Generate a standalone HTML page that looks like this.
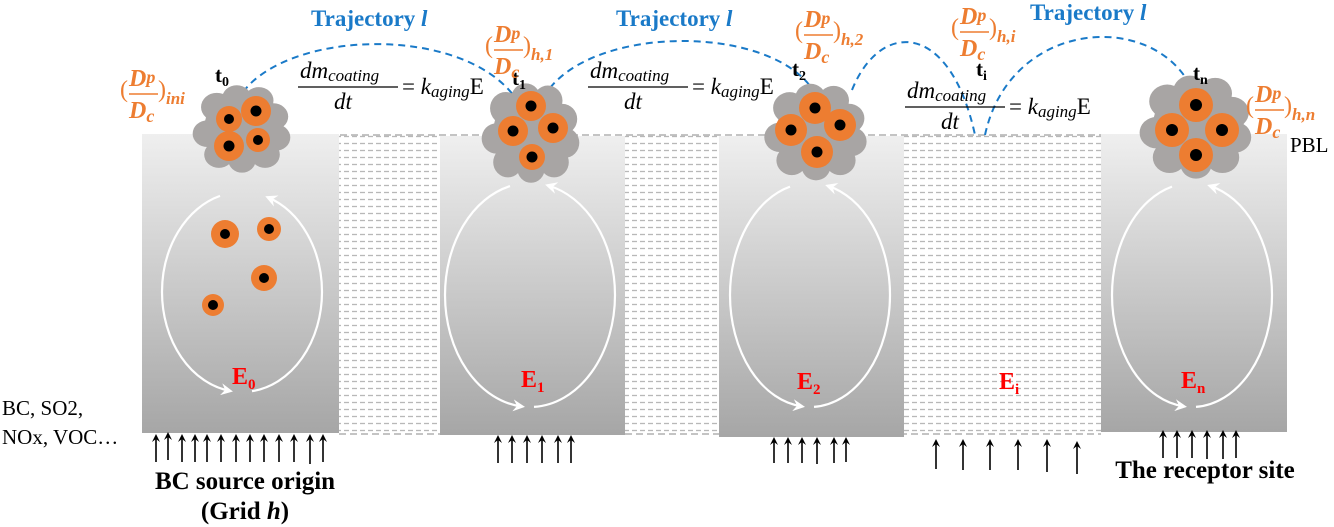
<!DOCTYPE html>
<html><head><meta charset="utf-8"><style>
html,body{margin:0;padding:0;background:#fff;}
svg{display:block;}
.ser{font-family:"Liberation Serif",serif;}
</style></head><body>
<svg width="1334" height="527" viewBox="0 0 1334 527" xmlns="http://www.w3.org/2000/svg">
<defs>
<linearGradient id="g" x1="0" y1="0" x2="0" y2="1">
<stop offset="0" stop-color="#efefef"/><stop offset="1" stop-color="#a6a6a6"/>
</linearGradient>
<pattern id="h" width="8" height="7" patternUnits="userSpaceOnUse">
<rect width="8" height="7" fill="#fff"/><line x1="0" y1="3.5" x2="5" y2="3.5" stroke="#b8b8b8" stroke-width="1.3"/>
</pattern>
<marker id="ah" markerWidth="8" markerHeight="8" refX="4" refY="4" orient="auto" markerUnits="userSpaceOnUse"><path d="M0,0 L8,4 L0,8 L3,4z" fill="#000"/></marker>
<marker id="wh" markerWidth="14" markerHeight="12" refX="9" refY="6" orient="auto" markerUnits="userSpaceOnUse"><path d="M0,0 L12,6 L0,12 L4,6z" fill="#fff"/></marker>
<g id="cl">
<g fill="#a8a5a4">
<circle cx="0" cy="0" r="36"/>
<circle cx="-24" cy="-22" r="15"/><circle cx="-5" cy="-31" r="14"/><circle cx="16" cy="-29" r="14"/><circle cx="30" cy="-12" r="14"/><circle cx="32" cy="10" r="14"/><circle cx="22" cy="28" r="14"/><circle cx="0" cy="34" r="13"/><circle cx="-22" cy="28" r="14"/><circle cx="-33" cy="6" r="14"/>
</g></g>
</defs>

<!-- hatched zones -->
<rect x="339" y="135" width="101" height="299" fill="url(#h)"/>
<rect x="625" y="135" width="94" height="299" fill="url(#h)"/>
<rect x="904" y="135" width="197" height="299" fill="url(#h)"/>
<line x1="142" y1="135" x2="1240" y2="135" stroke="#b0b0b0" stroke-width="1.5" stroke-dasharray="7,4"/>
<line x1="339" y1="434" x2="1101" y2="434" stroke="#b0b0b0" stroke-width="1.5" stroke-dasharray="7,4"/>

<!-- boxes -->
<rect x="142" y="134" width="197" height="299" fill="url(#g)"/>
<rect x="440" y="136" width="185" height="299" fill="url(#g)"/>
<rect x="719" y="136" width="185" height="301" fill="url(#g)"/>
<rect x="1101" y="134" width="186" height="298" fill="url(#g)"/>

<!-- circulation ellipses -->
<g fill="none" stroke="#fff" stroke-width="2.2">
<path d="M220,195.9 A80,100 0 0,0 162,292 A80,100 0 0,0 230,390.9" marker-end="url(#wh)"/>
<path d="M252,391.2 A80,100 0 0,0 322,292 A80,100 0 0,0 268,197.4" marker-end="url(#wh)"/>
<path d="M510,186.1 A85,112 0 0,0 445,295 A85,112 0 0,0 522,406.5" marker-end="url(#wh)"/>
<path d="M534,406.9 A85,112 0 0,0 615,295 A85,112 0 0,0 548,185.5" marker-end="url(#wh)"/>
<path d="M790,186.6 A80,112 0 0,0 730,295 A80,112 0 0,0 802,406.4" marker-end="url(#wh)"/>
<path d="M814,406.9 A80,112 0 0,0 890,295 A80,112 0 0,0 828,185.9" marker-end="url(#wh)"/>
<path d="M1172,186.6 A80,112 0 0,0 1112,295 A80,112 0 0,0 1184,406.4" marker-end="url(#wh)"/>
<path d="M1196,406.9 A80,112 0 0,0 1272,295 A80,112 0 0,0 1210,185.9" marker-end="url(#wh)"/>
</g>

<!-- free particles -->
<g>
<circle cx="225" cy="234" r="14" fill="#ed7d31"/><circle cx="225" cy="234" r="5" fill="#000"/>
<circle cx="269" cy="229" r="12" fill="#ed7d31"/><circle cx="269" cy="229" r="5" fill="#000"/>
<circle cx="264" cy="278" r="13" fill="#ed7d31"/><circle cx="264" cy="278" r="5" fill="#000"/>
<circle cx="213" cy="305" r="11" fill="#ed7d31"/><circle cx="213" cy="305" r="5" fill="#000"/>
</g>

<!-- trajectories -->
<g fill="none" stroke="#1a7ac8" stroke-width="2" stroke-dasharray="7,5">
<path d="M243,92 C290,30 460,25 514,96"/>
<path d="M550,88 C600,25 770,25 813,90"/>
<path d="M852,90 C880,20 950,20 975,135"/>
<path d="M985,135 C1010,20 1150,10 1190,85"/>
</g>

<!-- clusters -->
<g transform="translate(242,128) scale(1.05,0.95)"><use href="#cl"/></g>
<circle cx="229" cy="119" r="13" fill="#ed7d31"/><circle cx="229" cy="119" r="5" fill="#000"/>
<circle cx="256" cy="111" r="15" fill="#ed7d31"/><circle cx="256" cy="111" r="5.5" fill="#000"/>
<circle cx="229" cy="146" r="15" fill="#ed7d31"/><circle cx="229" cy="146" r="5.5" fill="#000"/>
<circle cx="258" cy="140" r="12" fill="#ed7d31"/><circle cx="258" cy="140" r="5" fill="#000"/>

<g transform="translate(531,132) scale(1.05,1.08)"><use href="#cl"/></g>
<circle cx="531" cy="106" r="15" fill="#ed7d31"/><circle cx="531" cy="106" r="5.5" fill="#000"/>
<circle cx="513" cy="131" r="15" fill="#ed7d31"/><circle cx="513" cy="131" r="5.5" fill="#000"/>
<circle cx="553" cy="128" r="15" fill="#ed7d31"/><circle cx="553" cy="128" r="5.5" fill="#000"/>
<circle cx="532" cy="157" r="13" fill="#ed7d31"/><circle cx="532" cy="157" r="5.5" fill="#000"/>

<g transform="translate(816,131) scale(1.1,1.05)"><use href="#cl"/></g>
<circle cx="815" cy="108" r="16" fill="#ed7d31"/><circle cx="815" cy="108" r="5.5" fill="#000"/>
<circle cx="791" cy="130" r="16" fill="#ed7d31"/><circle cx="791" cy="130" r="5.5" fill="#000"/>
<circle cx="840" cy="125" r="16" fill="#ed7d31"/><circle cx="840" cy="125" r="5.5" fill="#000"/>
<circle cx="817" cy="152" r="16" fill="#ed7d31"/><circle cx="817" cy="152" r="5.5" fill="#000"/>

<g transform="translate(1196,126) scale(1.2,1.12)"><use href="#cl"/></g>
<circle cx="1196" cy="105" r="17" fill="#ed7d31"/><circle cx="1196" cy="105" r="6" fill="#000"/>
<circle cx="1172" cy="130" r="17" fill="#ed7d31"/><circle cx="1172" cy="130" r="6" fill="#000"/>
<circle cx="1222" cy="130" r="17" fill="#ed7d31"/><circle cx="1222" cy="130" r="6" fill="#000"/>
<circle cx="1196" cy="155" r="17" fill="#ed7d31"/><circle cx="1196" cy="155" r="6" fill="#000"/>

<!-- trajectory labels -->
<g class="ser" font-weight="bold" font-size="23" fill="#1a7ac8">
<text x="311" y="26">Trajectory <tspan font-style="italic">l</tspan></text>
<text x="616" y="26">Trajectory <tspan font-style="italic">l</tspan></text>
<text x="1030" y="20">Trajectory <tspan font-style="italic">l</tspan></text>
</g>

<!-- t labels -->
<g class="ser" font-weight="bold" font-size="21" fill="#000">
<text x="215" y="82">t<tspan font-size="14" dy="4">0</tspan></text>
<text x="512" y="85">t<tspan font-size="14" dy="4">1</tspan></text>
<text x="792" y="76">t<tspan font-size="14" dy="4">2</tspan></text>
<text x="976" y="76">t<tspan font-size="14" dy="4">i</tspan></text>
<text x="1193" y="80">t<tspan font-size="14" dy="4">n</tspan></text>
</g>

<!-- formulas -->
<g class="ser" font-size="23" fill="#000">
<g transform="translate(298,0)">
<text x="2" y="78" font-style="italic">dm<tspan font-size="17" dy="3">coating</tspan></text>
<line x1="0" y1="87" x2="100" y2="87" stroke="#000" stroke-width="1.3"/>
<text x="36" y="109" font-style="italic">dt</text>
<text x="104" y="94">= <tspan font-style="italic">k</tspan><tspan font-style="italic" font-size="17" dy="3">aging</tspan><tspan dy="-3">E</tspan></text>
</g>
<g transform="translate(588,0)">
<text x="2" y="78" font-style="italic">dm<tspan font-size="17" dy="3">coating</tspan></text>
<line x1="0" y1="87" x2="100" y2="87" stroke="#000" stroke-width="1.3"/>
<text x="36" y="109" font-style="italic">dt</text>
<text x="104" y="94">= <tspan font-style="italic">k</tspan><tspan font-style="italic" font-size="17" dy="3">aging</tspan><tspan dy="-3">E</tspan></text>
</g>
<g transform="translate(905,20)">
<text x="2" y="78" font-style="italic">dm<tspan font-size="17" dy="3">coating</tspan></text>
<line x1="0" y1="87" x2="100" y2="87" stroke="#000" stroke-width="1.3"/>
<text x="36" y="109" font-style="italic">dt</text>
<text x="104" y="94">= <tspan font-style="italic">k</tspan><tspan font-style="italic" font-size="17" dy="3">aging</tspan><tspan dy="-3">E</tspan></text>
</g>
</g>

<!-- orange ratio labels -->
<g class="ser" font-weight="bold" font-style="italic" fill="#ed7d31">
<g transform="translate(120,62)">
<text x="0" y="35" font-size="24" font-style="normal" font-weight="normal">(</text>
<text x="9" y="24" font-size="24">D<tspan font-size="18" dy="-3">p</tspan></text>
<line x1="9" y1="32" x2="38" y2="32" stroke="#ed7d31" stroke-width="1.5"/>
<text x="9" y="56" font-size="24">D<tspan font-size="18" dy="4">c</tspan></text>
<text x="38" y="35" font-size="24" font-style="normal" font-weight="normal">)</text>
<text x="46" y="42" font-size="17">ini</text>
</g>
<g transform="translate(485,18)">
<text x="0" y="35" font-size="24" font-style="normal" font-weight="normal">(</text>
<text x="9" y="24" font-size="24">D<tspan font-size="18" dy="-3">p</tspan></text>
<line x1="9" y1="32" x2="38" y2="32" stroke="#ed7d31" stroke-width="1.5"/>
<text x="9" y="56" font-size="24">D<tspan font-size="18" dy="4">c</tspan></text>
<text x="38" y="35" font-size="24" font-style="normal" font-weight="normal">)</text>
<text x="46" y="42" font-size="17">h,1</text>
</g>
<g transform="translate(795,3)">
<text x="0" y="35" font-size="24" font-style="normal" font-weight="normal">(</text>
<text x="9" y="24" font-size="24">D<tspan font-size="18" dy="-3">p</tspan></text>
<line x1="9" y1="32" x2="38" y2="32" stroke="#ed7d31" stroke-width="1.5"/>
<text x="9" y="56" font-size="24">D<tspan font-size="18" dy="4">c</tspan></text>
<text x="38" y="35" font-size="24" font-style="normal" font-weight="normal">)</text>
<text x="46" y="42" font-size="17">h,2</text>
</g>
<g transform="translate(951,0)">
<text x="0" y="35" font-size="24" font-style="normal" font-weight="normal">(</text>
<text x="9" y="24" font-size="24">D<tspan font-size="18" dy="-3">p</tspan></text>
<line x1="9" y1="32" x2="38" y2="32" stroke="#ed7d31" stroke-width="1.5"/>
<text x="9" y="56" font-size="24">D<tspan font-size="18" dy="4">c</tspan></text>
<text x="38" y="35" font-size="24" font-style="normal" font-weight="normal">)</text>
<text x="46" y="42" font-size="17">h,i</text>
</g>
<g transform="translate(1246,78)">
<text x="0" y="35" font-size="24" font-style="normal" font-weight="normal">(</text>
<text x="9" y="24" font-size="24">D<tspan font-size="18" dy="-3">p</tspan></text>
<line x1="9" y1="32" x2="38" y2="32" stroke="#ed7d31" stroke-width="1.5"/>
<text x="9" y="56" font-size="24">D<tspan font-size="18" dy="4">c</tspan></text>
<text x="38" y="35" font-size="24" font-style="normal" font-weight="normal">)</text>
<text x="46" y="42" font-size="17">h,n</text>
</g>
</g>

<text x="1290" y="152" class="ser" font-size="21" fill="#000">PBL</text>

<!-- E labels -->
<g class="ser" font-weight="bold" font-size="24" fill="#ff0000">
<text x="232" y="384">E<tspan font-size="15" dy="5">0</tspan></text>
<text x="521" y="387">E<tspan font-size="15" dy="5">1</tspan></text>
<text x="797" y="389">E<tspan font-size="15" dy="5">2</tspan></text>
<text x="999" y="389">E<tspan font-size="15" dy="5">i</tspan></text>
<text x="1181" y="388">E<tspan font-size="15" dy="5">n</tspan></text>
</g>

<!-- source arrows -->
<g stroke="#000" stroke-width="1.6" marker-end="url(#ah)">
<line x1="156" y1="462" x2="156" y2="438"/><line x1="168" y1="460" x2="168" y2="436"/><line x1="182" y1="462" x2="182" y2="438"/><line x1="195" y1="462" x2="195" y2="438"/><line x1="207" y1="462" x2="207" y2="438"/><line x1="221" y1="462" x2="221" y2="438"/><line x1="236" y1="462" x2="236" y2="438"/><line x1="250" y1="462" x2="250" y2="438"/><line x1="264" y1="462" x2="264" y2="438"/><line x1="279" y1="462" x2="279" y2="438"/><line x1="294" y1="462" x2="294" y2="438"/><line x1="310" y1="464" x2="310" y2="438"/><line x1="323" y1="462" x2="323" y2="438"/>
<line x1="498" y1="463" x2="498" y2="439"/><line x1="512" y1="463" x2="512" y2="439"/><line x1="527" y1="463" x2="527" y2="439"/><line x1="542" y1="463" x2="542" y2="439"/><line x1="558" y1="463" x2="558" y2="439"/><line x1="571" y1="463" x2="571" y2="439"/>
<line x1="774" y1="463" x2="774" y2="441"/><line x1="788" y1="463" x2="788" y2="441"/><line x1="802" y1="463" x2="802" y2="441"/><line x1="817" y1="464" x2="817" y2="441"/><line x1="834" y1="463" x2="834" y2="441"/><line x1="846" y1="462" x2="846" y2="441"/>
<line x1="936" y1="469" x2="936" y2="443"/><line x1="963" y1="470" x2="963" y2="443"/><line x1="990" y1="470" x2="990" y2="443"/><line x1="1018" y1="470" x2="1018" y2="443"/><line x1="1047" y1="472" x2="1047" y2="443"/><line x1="1077" y1="474" x2="1077" y2="445"/>
<line x1="1163" y1="458" x2="1163" y2="434"/><line x1="1177" y1="458" x2="1177" y2="434"/><line x1="1192" y1="458" x2="1192" y2="434"/><line x1="1207" y1="459" x2="1207" y2="434"/><line x1="1223" y1="459" x2="1223" y2="434"/><line x1="1236" y1="458" x2="1236" y2="434"/>
</g>

<g class="ser" fill="#000">
<text x="2" y="415" font-size="21">BC, SO2,</text>
<text x="2" y="444" font-size="21">NOx, VOC…</text>
<text x="245" y="489" font-size="25" font-weight="bold" text-anchor="middle">BC source origin</text>
<text x="245" y="519" font-size="25" font-weight="bold" text-anchor="middle">(Grid <tspan font-style="italic">h</tspan>)</text>
<text x="1205" y="478" font-size="25" font-weight="bold" text-anchor="middle">The receptor site</text>
</g>
</svg>
</body></html>
